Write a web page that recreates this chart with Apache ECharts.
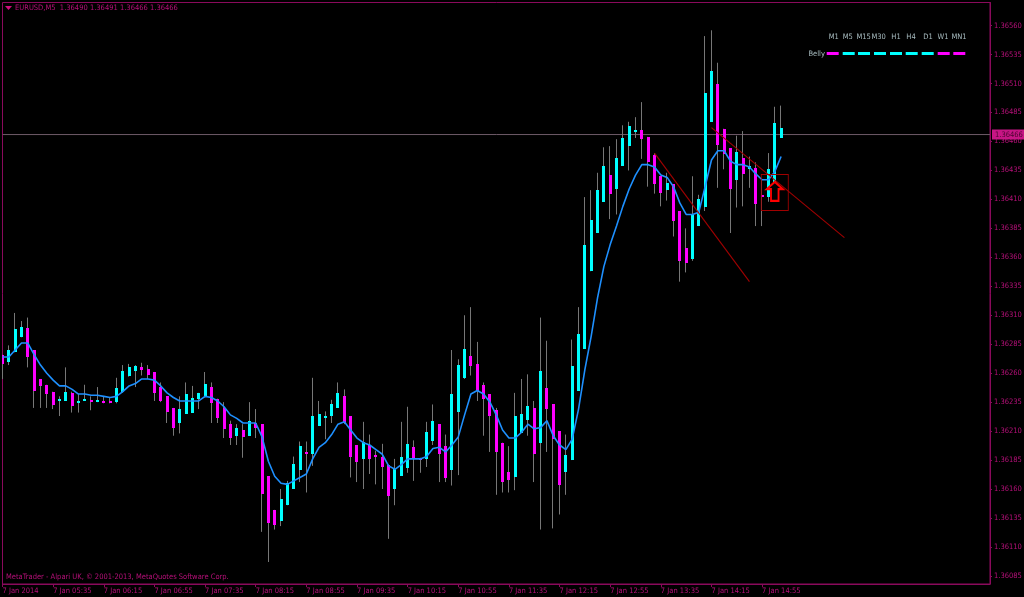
<!DOCTYPE html>
<html><head><meta charset="utf-8">
<style>html,body{margin:0;padding:0;background:#000}#c{width:1024px;height:597px}</style>
<script src="https://cdn.jsdelivr.net/npm/echarts@6/dist/echarts.min.js"></script>
</head><body><div id="c"></div>
<script>
// Prices in 0.00001 units above 1.36000
const priceBase = 1.36;
const opens = [276,270,278,291,299,280,255,250,244,236,236,243,235,236,237,236,236,236,235,244,257,262,265,264,261,248,240,230,217,225,226,238,241,248,238,230,216,206,211,206,217,216,171,142,132,146,160,176,192,190,215,222,223,230,240,223,198,186,198,189,188,181,160,172,178,196,187,186,202,216,197,176,226,256,275,268,250,242,228,200,175,170,209,220,230,200,247,233,210,174,185,245,281,348,381,408,431,419,439,456,468,470,464,448,430,418,423,400,368,358,387,404,477,510,471,454,427,446,436,437,414,412,425,463];
const closes = [268,280,298,300,274,245,249,242,233,238,244,232,236,238,236,237,235,235,247,262,265,266,262,259,243,236,226,213,229,242,239,243,251,234,222,212,204,213,205,219,213,156,130,129,151,165,182,197,190,223,225,223,233,243,217,188,183,201,186,187,179,154,177,188,199,186,185,209,219,190,169,242,267,281,266,245,238,223,192,166,168,223,225,232,190,262,229,203,163,189,266,294,371,392,418,439,415,446,463,473,470,462,442,423,415,424,391,357,355,397,410,502,521,457,449,419,451,432,439,406,412,436,476,472];
const lows = [255,267,278,291,265,230,230,230,229,223,236,226,226,236,228,235,234,234,234,243,257,248,258,255,236,235,217,206,208,225,226,229,239,217,217,204,198,198,187,206,204,123,97,125,128,146,160,166,157,180,215,203,217,230,216,170,166,160,173,164,160,117,146,172,174,167,174,179,198,166,166,163,172,255,258,236,206,192,155,157,157,159,209,206,166,125,192,126,138,155,185,245,281,348,381,408,393,397,439,435,463,445,421,415,404,409,378,339,347,357,387,400,477,420,436,381,403,404,420,387,387,408,425,463];
const highs = [276,284,312,305,308,280,255,250,244,240,265,244,242,250,240,248,240,239,256,267,268,267,269,267,261,252,240,230,240,252,249,243,261,252,238,235,219,216,216,235,229,216,171,142,160,167,188,201,201,256,236,227,237,252,246,223,198,218,207,193,199,181,186,218,231,202,187,218,233,216,207,280,272,310,317,287,252,242,230,200,197,243,255,259,236,308,288,233,210,207,289,317,412,418,433,455,456,462,474,477,481,494,464,450,430,433,423,400,385,430,414,551,556,528,471,454,465,469,447,442,428,450,490,491];
const ema = [274,274,280,286,286,276,267,260,254,249,249,246,242,242,241,241,240,239,240,244,249,251,255,255,254,249,243,239,236,236,236,236,240,239,236,231,224,221,217,217,217,205,184,171,165,164,167,170,173,186,196,200,207,216,218,211,204,200,198,194,190,180,177,181,186,186,186,188,195,196,192,198,205,224,242,245,242,235,224,211,204,204,209,216,212,213,219,206,198,194,203,229,263,292,325,352,371,387,404,419,431,440,440,438,431,429,421,407,397,397,399,421,444,452,452,443,440,440,438,432,427,427,434,447];
const trendA = [[103,450],[118,339]];
const trendB = [[112,472],[133,377]];
const signalBar = 122, signalPrice = 417, boxPrice = 416;
const bidPrice = 1.36466;
const yTicks = [1.36085,1.36110,1.36135,1.36160,1.36185,1.36210,1.36235,1.36260,1.36285,1.36310,1.36335,1.36360,1.36385,1.36410,1.36435,1.36460,1.36485,1.36510,1.36535,1.36560];
const tickLabels = ["7 Jan 2014","7 Jan 05:35","7 Jan 06:15","7 Jan 06:55","7 Jan 07:35","7 Jan 08:15","7 Jan 08:55","7 Jan 09:35","7 Jan 10:15","7 Jan 10:55","7 Jan 11:35","7 Jan 12:15","7 Jan 12:55","7 Jan 13:35","7 Jan 14:15","7 Jan 14:55"];
const headerText = "EURUSD,M5  1.36490 1.36491 1.36466 1.36466";
const footerText = "MetaTrader - Alpari UK, \u00A9 2001-2013, MetaQuotes Software Corp.";
const tfLabels = ["M1","M5","M15","M30","H1","H4","D1","W1","MN1"];
const bellyState = [0,1,1,1,1,1,1,0,0];

const UP='#00FFFF', DOWN='#FF00FF', WICK='#777777', AXIS='#8a0a5c', TEXT='#b8107a', RED='#a00000';
const FONT='"DejaVu Sans Condensed","Liberation Sans"';
const FS=7.5;
const P = v => +(priceBase + v/1e5).toFixed(5);
const slots = 157;
const categories = Array.from({length:slots},(_,i)=> (i%8===0 && tickLabels[i/8]) ? tickLabels[i/8] : '');
const isTick = i => i%8===0 && i/8 < tickLabels.length;
const wicks = opens.map((o,i)=>[P(o),P(closes[i]),P(lows[i]),P(highs[i])]);
const bodies = opens.map((o,i)=>[i,P(o),P(closes[i])]);

const tfX=[833.7,847.7,863.7,878.7,896,911,928,943,959];
const dashX=[826.7,842.7,858,874,890,905.7,921.7,937.7,953.3];
const graphic=[
 {type:'polygon',shape:{points:[[5,6],[12,6],[8.5,10]]},style:{fill:'#d0107f'},silent:true},
 {type:'text',left:15,top:4,style:{text:headerText,fill:TEXT,font:FS+'px '+FONT}},
 {type:'text',left:6,top:573,style:{text:footerText,fill:TEXT,font:FS+'px '+FONT}},
 {type:'text',x:816.7,y:54,style:{text:'Belly',fill:'#a8bcc0',font:FS+'px '+FONT,textAlign:'center',textVerticalAlign:'middle'}}
];
tfLabels.forEach((t,i)=>graphic.push({type:'text',x:tfX[i],y:37,style:{text:t,fill:'#a8bcc0',font:FS+'px '+FONT,textAlign:'center',textVerticalAlign:'middle'}}));
bellyState.forEach((s,i)=>graphic.push({type:'rect',shape:{x:dashX[i],y:52,width:12,height:3},style:{fill:s?UP:DOWN},silent:true}));

const chart=echarts.init(document.getElementById('c'),null,{renderer:'canvas'});
chart.setOption({
 animation:false,backgroundColor:'#000',
 textStyle:{fontFamily:FONT},
 grid:{left:2.5,top:2.5,width:987.5,height:581.5,show:true,borderColor:AXIS,borderWidth:1,backgroundColor:'transparent',outerBoundsMode:'none'},
 xAxis:{type:'category',data:categories,boundaryGap:false,
   axisLine:{show:true,lineStyle:{color:AXIS}},
   axisTick:{show:true,interval:isTick,length:3,lineStyle:{color:AXIS}},
   axisLabel:{show:true,interval:(i)=>isTick(i),align:'left',margin:3,color:TEXT,fontSize:FS,fontFamily:FONT,hideOverlap:false},
   splitLine:{show:false}},
 yAxis:{type:'value',position:'right',min:P(78),max:P(580),scale:true,
   axisLine:{show:true,lineStyle:{color:AXIS}},
   axisTick:{show:true,length:2,customValues:yTicks,lineStyle:{color:AXIS}},
   axisLabel:{show:true,customValues:yTicks,margin:4,color:TEXT,fontSize:FS,fontFamily:FONT,formatter:v=>v.toFixed(5)},
   splitLine:{show:false}},
 graphic,
 series:[
  {type:'line',name:'bid',data:[[0,bidPrice],[slots-1,bidPrice]],symbol:'none',z:1,clip:false,silent:true,
   lineStyle:{color:'#6e5a68',width:1},
   endLabel:{show:true,distance:2,formatter:()=>bidPrice.toFixed(5),color:'#4a0530',backgroundColor:'#c71585',fontSize:FS,fontFamily:FONT,padding:[1,4,1,3]}},
  {type:'candlestick',name:'wicks',data:wicks,barWidth:1,clip:true,z:2,
   itemStyle:{color:WICK,color0:WICK,borderColor:WICK,borderColor0:WICK,borderWidth:1}},
  {type:'custom',name:'bodies',data:bodies,clip:true,z:3,encode:{x:0,y:[1,2]},
   renderItem:(params,api)=>{
     const a=api.coord([api.value(0),api.value(1)]), b=api.coord([api.value(0),api.value(2)]);
     const top=Math.round(Math.min(a[1],b[1])), h=Math.max(2,Math.round(Math.abs(a[1]-b[1])));
     return {type:'rect',shape:{x:Math.round(a[0]-1.5),y:top,width:3,height:h},
       style:{fill:api.value(2)>=api.value(1)?UP:DOWN}};
   }},
  {type:'line',name:'MA',data:ema.map(P),symbol:'none',smooth:false,z:4,lineStyle:{color:'#1E90FF',width:1.6}},
  {type:'line',name:'trendA',data:trendA.map(d=>[d[0],P(d[1])]),symbol:'none',z:5,lineStyle:{color:RED,width:1.1}},
  {type:'line',name:'trendB',data:trendB.map(d=>[d[0],P(d[1])]),symbol:'none',z:5,lineStyle:{color:RED,width:1.1},
   markPoint:{silent:true,animation:false,z:6,label:{show:false},data:[
     {coord:[signalBar,P(boxPrice)],symbol:'rect',symbolSize:[27,36],itemStyle:{color:'rgba(0,0,0,0)',borderColor:RED,borderWidth:1}},
     {coord:[signalBar,P(signalPrice)],symbol:'path://M8.5 0 L17 8 L12.5 8 L12.5 21 L4.5 21 L4.5 8 L0 8 Z',symbolKeepAspect:false,symbolSize:[16,19],itemStyle:{color:'#000',borderColor:'#ff0000',borderWidth:2}}
   ]}}
 ]
});
</script></body></html>
